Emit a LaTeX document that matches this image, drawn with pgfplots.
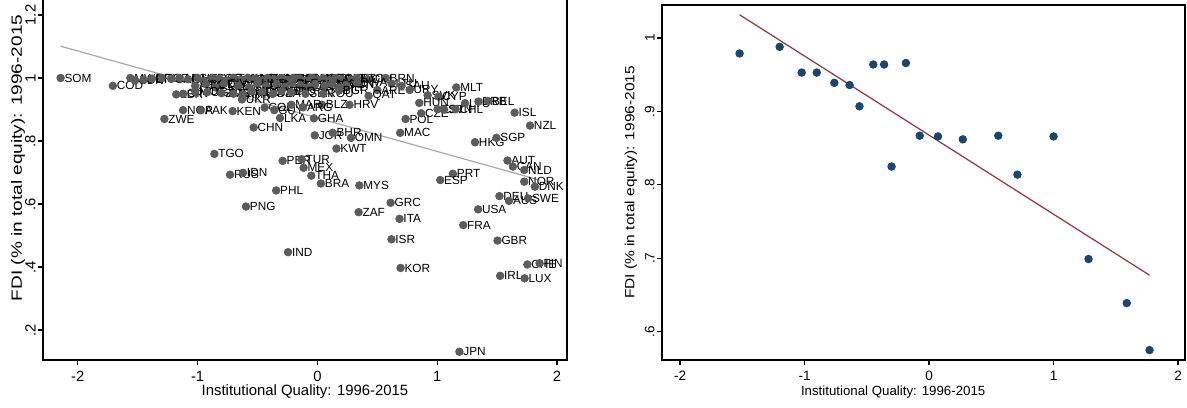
\documentclass[border=0pt]{standalone}
\usepackage{pgfplots}
\pgfplotsset{compat=1.18}
\usepackage{pgfplotstable}
\usepackage{fontspec}
\setmainfont{Liberation Sans}
\newfontfamily\lvfont{Liberation Sans}[FakeStretch=1.28]
\newfontfamily\rvfont{Liberation Sans}[FakeStretch=1.165]
\definecolor{mgray}{HTML}{5C5C5C}
\definecolor{lgray}{HTML}{A8A8A8}
\definecolor{snavy}{HTML}{1A476F}
\definecolor{smaroon}{HTML}{90353B}

\pgfplotstableread{
x y label
-2.143 1.000 SOM
-1.707 0.975 COD
-1.561 1.000 MWI
-1.522 0.992 SDN
-1.450 0.995 BDI
-1.380 0.998 ERI
-1.300 1.000 TCD
-1.220 0.997 CAF
-1.150 1.000 AFG
-1.080 0.996 GNB
-1.000 1.000 HTI
-0.950 0.990 ETH
-0.880 1.000 COG
-0.820 0.998 YEM
-0.760 0.992 NER
-0.700 1.000 TJK
-0.640 0.995 UZB
-0.580 1.000 LAO
-0.520 0.998 MLI
-0.470 0.992 GNQ
-0.420 1.000 TKM
-0.360 0.996 BEN
-0.300 1.000 NPL
-0.250 0.994 MDA
-0.200 1.000 BOL
-0.150 0.998 ARM
-0.100 0.992 ALB
-0.050 1.000 MNG
0.000 0.996 JAM
0.050 0.999 GEO
0.100 0.993 NAM
0.150 1.000 SUR
0.200 0.997 PAN
0.280 0.994 LVA
0.330 1.000 TTO
0.420 0.996 CRI
0.570 1.000 BRN
-1.020 0.975 AGO
-0.930 0.980 BGD
-0.850 0.970 CMR
-0.780 0.982 CIV
-0.660 0.975 PRY
-0.570 0.970 GTM
-0.500 0.982 HND
-0.430 0.975 NIC
-0.340 0.980 KGZ
-0.270 0.972 ECU
-0.210 0.984 SLE
-0.140 0.976 DOM
-0.080 0.970 EGY
-0.020 0.980 SLV
0.060 0.975 SRB
0.120 0.982 MKD
0.180 0.970 BIH
0.240 0.978 TUN
0.330 0.985 BWA
0.620 0.982 LTU
0.500 0.962 ARE
0.700 0.975 SAU
0.770 0.962 URY
-1.178 0.948 LBR
-1.120 0.950 GIN
-1.020 0.958 MOZ
-0.920 0.955 UGA
-0.800 0.952 ZMB
-0.700 0.950 TZA
-0.620 0.948 KHM
-0.550 0.958 MDG
-0.460 0.955 RWA
-0.370 0.950 DZA
-0.300 0.958 VEN
-0.220 0.955 IRQ
-0.100 0.950 SEN
0.050 0.950 ROU
0.180 0.960 BGR
0.427 0.943 QAT
0.920 0.945 SVK
1.010 0.941 CYP
0.268 0.915 HRV
0.038 0.915 BLZ
-1.121 0.898 NGA
-0.971 0.898 PAK
-0.707 0.895 KEN
-0.630 0.932 UKR
-0.440 0.906 COL
-0.360 0.898 GUY
-0.217 0.915 MAR
-0.120 0.907 ARG
-1.277 0.870 ZWE
-0.532 0.843 CHN
-0.312 0.873 LKA
-0.029 0.872 GHA
-0.860 0.759 TGO
-0.729 0.693 RUS
-0.621 0.699 IDN
-0.290 0.737 PER
-0.131 0.742 TUR
-0.115 0.715 MEX
-0.051 0.690 THA
0.029 0.665 BRA
-0.344 0.643 PHL
-0.596 0.592 PNG
-0.245 0.447 IND
-0.022 0.818 JOR
0.127 0.826 BHR
0.280 0.810 OMN
0.159 0.776 KWT
0.350 0.659 MYS
0.344 0.574 ZAF
0.611 0.604 GRC
0.685 0.553 ITA
0.618 0.488 ISR
0.694 0.397 KOR
0.691 0.826 MAC
0.736 0.870 POL
0.866 0.888 CZE
0.850 0.921 HUN
1.003 0.901 EST
1.057 0.900 SVN
1.153 0.901 CHL
1.159 0.970 MLT
1.232 0.920 LTU
1.344 0.925 BRB
1.424 0.927 BEL
1.646 0.890 ISL
1.774 0.849 NZL
1.315 0.796 HKG
1.494 0.810 SGP
1.586 0.738 AUT
1.631 0.719 CAN
1.726 0.708 NLD
1.726 0.671 NOR
1.815 0.655 DNK
1.519 0.625 DEU
1.599 0.610 AUS
1.758 0.618 SWE
1.341 0.583 USA
1.217 0.533 FRA
1.503 0.484 GBR
1.752 0.408 CHE
1.854 0.412 FIN
1.525 0.372 IRL
1.729 0.364 LUX
1.185 0.131 JPN
1.131 0.696 PRT
1.025 0.676 ESP
}\leftdata

\pgfplotstableread{
x y
-1.522 0.979
-1.200 0.988
-1.023 0.953
-0.902 0.953
-0.761 0.939
-0.638 0.936
-0.559 0.907
-0.448 0.964
-0.361 0.964
-0.301 0.825
-0.186 0.966
-0.075 0.867
0.072 0.866
0.271 0.862
0.556 0.867
0.710 0.814
1.000 0.866
1.281 0.699
1.588 0.639
1.771 0.575
}\rightdata

\pgfplotsset{
  stataaxis/.style={
    anchor=south west, scale only axis,
    axis line style={line width=0.6pt},
    tick align=outside, tick pos=left,
    major tick length=2.5pt,
    every tick/.style={black, line width=0.6pt},
    xtick={-2,-1,0,1,2}, xticklabels={-2,-1,0,1,2},
    xticklabel style={anchor=north, inner sep=1pt, yshift=-2pt},
    yticklabel style={rotate=90, anchor=south, inner sep=1pt},
    xlabel={Institutional Quality: 1996-2015},
    ylabel={FDI (\% in total equity): 1996-2015},
    clip=false,
  }
}

\begin{document}
\begin{tikzpicture}
\path[use as bounding box] (0,0) rectangle (593.5pt,203.5pt);
\begin{axis}[stataaxis,
  at={(21.5pt,23.5pt)}, width=262pt, height=202pt,
  xmin=-2.29, xmax=2.083, ymin=0.1048, ymax=1.3873,
  ytick={0.2,0.4,0.6,0.8,1,1.2}, yticklabels={.2,.4,.6,.8,1,1.2},
  tick label style={font=\fontsize{7.4}{8}\selectfont},
  xlabel style={at={(axis description cs:0.5,0)}, anchor=center, yshift=-16pt,
    font=\fontsize{7.44}{8}\selectfont},
  ylabel style={at={(axis description cs:-0.0477,0.5)}, anchor=center,
    font=\lvfont\fontsize{7.44}{8}\selectfont},
]
\addplot[lgray, line width=0.6pt] coordinates {(-2.143,1.101) (1.854,0.676)};
\addplot[only marks, mark=*, mark size=1.9pt,
  mark options={draw=mgray, fill=mgray},
  nodes near coords, point meta=explicit symbolic,
  every node near coord/.style={anchor=west, xshift=1.8pt, inner sep=0pt,
    text=black, font=\fontsize{5.9}{6}\selectfont}]
  table[x=x, y=y, meta=label] {\leftdata};
\end{axis}
\begin{axis}[stataaxis,
  at={(331pt,23.5pt)}, width=261.5pt, height=177.5pt,
  xmin=-2.145, xmax=2.056, ymin=0.5615, ymax=1.045,
  ytick={0.6,0.7,0.8,0.9,1}, yticklabels={.6,.7,.8,.9,1},
  tick label style={font=\fontsize{6.8}{8}\selectfont},
  xlabel style={at={(axis description cs:0.442,0)}, anchor=center, yshift=-16pt,
    font=\fontsize{6.64}{8}\selectfont},
  ylabel style={at={(axis description cs:-0.0593,0.5)}, anchor=center,
    font=\rvfont\fontsize{6.64}{8}\selectfont},
]
\addplot[smaroon, line width=0.6pt] coordinates {(-1.522,1.0317) (1.771,0.677)};
\addplot[only marks, mark=*, mark size=1.9pt,
  mark options={draw=snavy, fill=snavy}]
  table[x=x, y=y] {\rightdata};
\end{axis}
\end{tikzpicture}
\end{document}
